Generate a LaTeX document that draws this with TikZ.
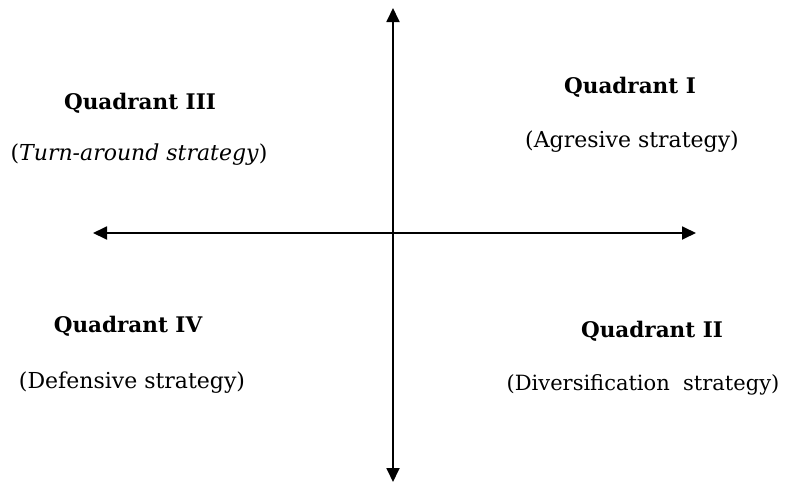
\documentclass[tikz,border=0pt]{standalone}
\usepackage{fontspec}
\setmainfont{DejaVu Serif}
\usetikzlibrary{arrows.meta}
\begin{document}
\begin{tikzpicture}[x=1pt,y=-1pt,
  axis/.style={line width=1.8pt,{Triangle[length=14pt,width=13pt]}-{Triangle[length=14pt,width=13pt]}},
  qtitle/.style={anchor=base,inner sep=0pt,font=\fontsize{21.5}{24}\selectfont\bfseries},
  qsub/.style={anchor=base,inner sep=0pt,font=\fontsize{22}{24}\selectfont}]
\useasboundingbox (0,0) rectangle (788,490);
\coordinate (top) at (393,8);
\coordinate (bot) at (393,482);
\coordinate (lft) at (93,233);
\coordinate (rgt) at (696,233);
\draw[axis] (top) -- (bot);
\draw[axis] (lft) -- (rgt);
\node[qtitle] (q3) at (140,109) {Quadrant III};
\node[qsub] (s3) at (139,160) {(\textit{Turn-around strategy})};
\node[qtitle] (q1) at (630,93) {Quadrant I};
\node[qsub] (s1) at (632,147) {(Agresive strategy)};
\node[qtitle] (q4) at (128,332) {Quadrant IV};
\node[qsub] (s4) at (132,388) {(Defensive strategy)};
\node[qtitle] (q2) at (652,337) {Quadrant II};
\node[qsub,font=\fontsize{21}{24}\selectfont] (s2) at (643,390) {(Diversification\ \ strategy)};
\end{tikzpicture}
\end{document}
